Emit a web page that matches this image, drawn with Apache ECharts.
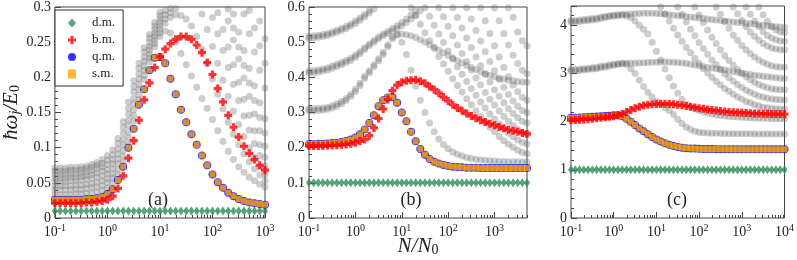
<!DOCTYPE html>
<html><head><meta charset="utf-8">
<script src="https://cdn.jsdelivr.net/npm/echarts@6/dist/echarts.min.js"></script>
<style>html,body{margin:0;padding:0;background:#fff}#c{width:797px;height:260px}</style>
</head><body><div id="c"></div>
<script>
const _ = null;
// log10(N/N0) sample positions for each panel
const expA = [-1.0,-0.9,-0.8,-0.7,-0.6,-0.5,-0.4,-0.3,-0.2,-0.1, 0.0,0.1,0.2,0.3,0.4,0.5,0.6,0.7,0.8,0.9, 1.0,1.1,1.2,1.3,1.4,1.5,1.6,1.7,1.8,1.9, 2.0,2.1,2.2,2.3,2.4,2.5,2.6,2.7,2.8,2.9, 3.0];
const expB = [-1.0,-0.9,-0.8,-0.7,-0.6,-0.5,-0.4,-0.3,-0.2,-0.1, 0.0,0.1,0.2,0.3,0.4,0.5,0.6,0.7,0.8,0.9, 1.0,1.1,1.2,1.3,1.4,1.5,1.6,1.7,1.8,1.9, 2.0,2.1,2.2,2.3,2.4,2.5,2.6,2.7,2.8,2.9, 3.0,3.1,3.2,3.3,3.4,3.5,3.6,3.7];
const expC = [-1.0,-0.9,-0.8,-0.7,-0.6,-0.5,-0.4,-0.3,-0.2,-0.1, 0.0,0.1,0.2,0.3,0.4,0.5,0.6,0.7,0.8,0.9, 1.0,1.1,1.2,1.3,1.4,1.5,1.6,1.7,1.8,1.9, 2.0,2.1,2.2,2.3,2.4,2.5,2.6,2.7,2.8,2.9, 3.0,3.1,3.2,3.3,3.4,3.5,3.6,3.7,3.8,3.9, 4.0];

// tick labels
const xTicksA = [0.1, 1, 10, 100, 1000];
const xTicksB = [0.1, 1, 10, 100, 1000];
const xTicksC = [0.1, 1, 10, 100, 1000, 10000];
const yTicksA = [0, 0.05, 0.1, 0.15, 0.2, 0.25, 0.3];
const yTicksB = [0, 0.1, 0.2, 0.3, 0.4, 0.5, 0.6];
const yTicksC = [0, 1, 2, 3, 4];

// ---------- panel (a) ----------
const dmA = [.01,.01,.01,.01,.01,.01,.01,.01,.01,.01, .01,.01,.01,.01,.01,.01,.01,.01,.01,.01, .01,.01,.01,.01,.01,.01,.01,.01,.01,.01, .01,.01,.01,.01,.01,.01,.01,.01,.01,.01, .01];
const bmA = [.021,.021,.021,.021,.021,.021,.022,.022,.023,.024, .026,.031,.042,.060,.085,.110,.139,.168,.192,.214, .229,.240,.248,.254,.258,.258,.254,.246,.235,.221, .204,.184,.165,.146,.129,.115,.102,.092,.083,.075, .068];
const qmA = [.026,.026,.026,.026,.026,.026,.027,.027,.028,.030, .034,.041,.054,.073,.100,.127,.161,.183,.210,.228, .229,.220,.198,.176,.154,.136,.119,.104,.089,.075, .062,.051,.043,.036,.031,.027,.024,.022,.021,.020, .019];
const smA = [.026,.026,.026,.026,.026,.026,.027,.027,.028,.030, .034,.041,.054,.073,.100,.127,.161,.183,.210,.228, .229,.220,.198,.176,.154,.136,.119,.104,.089,.075, .062,.051,.043,.036,.031,.027,.024,.022,.021,.020, .019];
const gA1 = [.033,.033,.033,.033,.034,.034,.035,.036,.037,.039, .043,.050,.062,.080,.105,.138,.168,.197,.222,.243, .258,.266,.263,.250,.234,.218,.202,.186,.170,.156, .140,.124,.109,.095,.083,.073,.065,.058,.053,.048, .044];
const gA2 = [.040,.040,.040,.040,.041,.041,.042,.043,.044,.046, .050,.057,.069,.088,.114,.146,.175,.203,.228,.248, .263,.277,.285,.289,.288,.283,.273,.258,.240,.220, .198,.176,.155,.136,.119,.104,.091,.080,.070,.061, .053];
const gA3 = [.046,.046,.046,.046,.047,.047,.048,.049,.051,.053, .056,.063,.077,.096,.122,.154,.183,.210,.233,.253, .268,.283,.292,.298,_,_,_,_,.290,.268, .244,.220,.196,.173,.152,.133,.116,.100,.086,.073, .062];
const gA4 = [.052,.052,.052,.053,.053,.054,.055,.056,.058,.060, .063,.070,.084,.104,.131,.162,.190,.216,.239,.258, .273,.289,.298,_,_,_,_,_,_,_, .285,.262,.238,.214,.190,.167,.145,.125,.106,.089, .074];
const gA5 = [.057,.057,.057,.058,.058,.059,.060,.062,.064,.067, .069,.077,.091,.112,.139,.170,.198,.223,.244,.263, .278,.295,_,_,_,_,_,_,_,_, _,.292,.268,.243,.218,.193,.169,.146,.124,.104, .086];
const gA6 = [.062,.062,.062,.063,.063,.064,.065,.067,.070,.073, .076,.083,.098,.121,.148,.179,.205,.229,.250,.268, .283,_,_,_,_,_,_,_,_,_, _,_,_,.280,.253,.226,.199,.173,.148,.124, .102];
const gA7 = [.067,.067,.067,.068,.068,.069,.070,.072,.075,.078, .082,.090,.106,.129,.156,.187,.213,.236,.256,.273, .288,_,_,_,_,_,_,_,_,_, _,_,_,.297,.270,.243,.217,.192,.167,.143, .121];
const gA8 = [.071,.071,.071,.072,.072,.073,.074,.076,.079,.083, .089,.097,.113,.137,.165,.195,.220,.242,.261,.278, .293,_,_,_,_,_,_,_,_,_, _,_,_,_,.290,.264,.238,.213,.188,.164, .141];
const gA9 = [_,_,_,_,_,_,_,_,_,_, _,_,_,_,_,_,_,_,_,_, _,_,_,_,_,_,_,_,_,_, _,_,_,_,_,_,.290,.262,.236,.210, .185];
const gA10 = [_,_,_,_,_,_,_,_,_,_, _,_,_,_,_,_,_,_,_,_, _,_,_,_,_,_,_,_,_,_, _,_,_,_,_,_,_,.295,.270,.245, .220];
const gA11 = [_,_,_,_,_,_,_,_,_,_, _,_,_,_,_,_,_,_,_,_, _,_,_,_,_,_,_,_,_,_, _,_,_,_,_,_,_,_,_,.280, .255];

// ---------- panel (b) ----------
const dmB = [.1,.1,.1,.1,.1,.1,.1,.1,.1,.1, .1,.1,.1,.1,.1,.1,.1,.1,.1,.1, .1,.1,.1,.1,.1,.1,.1,.1,.1,.1, .1,.1,.1,.1,.1,.1,.1,.1,.1,.1, .1,.1,.1,.1,.1,.1,.1,.1];
const bmB = [.205,.205,.205,.205,.206,.206,.207,.208,.209,.211, .214,.218,.223,.234,.256,.283,.310,.337,.362,.378, .386,.390,.392,.393,.389,.383,.374,.365,.355,.344, .333,.322,.313,.305,.297,.290,.284,.278,.273,.268, .264,.259,.255,.251,.248,.245,.242,.239];
const qmB = [.210,.210,.211,.211,.212,.213,.214,.216,.219,.223, .229,.238,.252,.270,.292,.318,.335,.343,.344,.328, .300,.275,.245,.218,.196,.180,.168,.160,.155,.151, .148,.146,.145,.144,.143,.143,.143,.142,.142,.142, .142,.142,.142,.142,.142,.142,.142,.142];
const smB = [.210,.210,.211,.211,.212,.213,.214,.216,.219,.223, .229,.238,.252,.270,.292,.318,.335,.343,.344,.328, .300,.275,.245,.218,.196,.180,.168,.160,.155,.151, .148,.146,.145,.144,.143,.143,.143,.142,.142,.142, .142,.142,.142,.142,.142,.142,.142,.142];
const gB1 = [.305,.305,.306,.307,.309,.313,.318,.325,.334,.346, .360,.377,.397,.413,.430,.447,.465,.487,.510,.520, .500,.465,.420,.375,.335,.300,.270,.245,.225,.209, .197,.188,.181,.176,.172,.169,.167,.165,.164,.163, .162,.161,.161,.160,.160,.160,.159,.159];
const gB2 = [.311,.311,.312,.313,.315,.319,.324,.331,.340,.352, .366,.383,.403,.419,.436,.453,.471,.493,.515,.523, .523,.521,.518,.513,.507,.500,.493,.486,.478,.470, .462,.455,.448,.441,.434,.428,.422,.416,.411,.406, .402,.398,.395,.392,.390,.388,.387,.386];
const gB3 = [.412,.413,.415,.418,.421,.426,.431,.436,.442,.448, .457,.467,.479,.490,.500,.510,.518,.525,.532,.539, .547,.556,.566,.577,.589,_,_,_,_,_, _,_,_,_,_,_,_,_,_,_, _,_,_,_,_,_,_,_];
const gB4 = [.418,.419,.421,.424,.427,.432,.437,.442,.448,.455, .463,.473,.484,.495,.505,.515,.523,.531,.539,.547, .556,.566,.577,.589,_,_,_,_,_,_, _,_,_,_,_,_,_,_,_,_, _,_,_,_,_,_,_,_];
const gB5 = [.511,.512,.514,.516,.519,.523,.528,.533,.539,.546, .553,.562,.572,.583,.594,_,_,_,_,_, _,_,_,_,_,_,_,_,_,_, _,_,_,_,_,_,_,_,_,_, _,_,_,_,_,_,_,_];
const gB6 = [.517,.518,.520,.522,.525,.529,.534,.539,.545,.552, .560,.569,.579,.590,_,_,_,_,_,_, _,_,_,_,_,_,_,_,_,_, _,_,_,_,_,_,_,_,_,_, _,_,_,_,_,_,_,_];
const gB7 = [_,_,_,_,_,_,_,_,_,_, _,_,_,_,_,_,_,_,_,_, _,_,.598,.575,.551,.527,.504,.482,.459,.438, .417,.396,.377,.358,.339,.322,.305,.288,.273,.258, .245,.232,.220,.210,.201,.193,.186,.183];
const gB8 = [_,_,_,_,_,_,_,_,_,_, _,_,_,_,_,_,_,_,_,_, _,_,_,_,_,.598,.574,.548,.523,.499, .475,.452,.430,.409,.388,.368,.349,.330,.313,.296, .281,.267,.253,.241,.231,.222,.215,.211];
const gB9 = [_,_,_,_,_,_,_,_,_,_, _,_,_,_,_,_,_,_,_,_, _,_,_,_,_,_,_,_,.598,.572, .545,.518,.492,.468,.444,.421,.398,.378,.357,.338, .321,.304,.289,.275,.263,.252,.244,.240];
const gB10 = [_,_,_,_,_,_,_,_,_,_, _,_,_,_,_,_,_,_,_,_, _,_,_,_,_,_,_,_,_,_, _,.598,.570,.540,.512,.485,.458,.433,.409,.387, .365,.346,.328,.311,.297,.285,.275,.270];
const gB11 = [_,_,_,_,_,_,_,_,_,_, _,_,_,_,_,_,_,_,_,_, _,_,_,_,_,_,_,_,_,_, _,_,_,_,.598,.566,.533,.503,.473,.445, .419,.394,.372,.351,.333,.318,.306,.300];
const gB12 = [_,_,_,_,_,_,_,_,_,_, _,_,_,_,_,_,_,_,_,_, _,_,_,_,_,_,_,_,_,_, _,_,_,_,_,_,_,.598,.561,.525, .490,.458,.429,.402,.378,.359,.343,.335];
const gB13 = [_,_,_,_,_,_,_,_,_,_, _,_,_,_,_,_,_,_,_,_, _,_,_,_,_,_,_,_,_,_, _,_,_,_,_,_,_,_,_,_, .598,.561,.525,.492,.463,.439,.420,.410];
const gB14 = [_,_,_,_,_,_,_,_,_,_, _,_,_,_,_,_,_,_,_,_, _,_,_,_,_,_,_,_,_,_, _,_,_,_,_,_,_,_,_,_, _,_,_,.598,.571,.529,.504,.490];

// ---------- panel (c) ----------
const dmC = [1,1,1,1,1,1,1,1,1,1, 1,1,1,1,1,1,1,1,1,1, 1,1,1,1,1,1,1,1,1,1, 1,1,1,1,1,1,1,1,1,1, 1,1,1,1,1,1,1,1,1,1, 1];
const bmC = [2.03,2.035,2.04,2.045,2.05,2.06,2.07,2.08,2.09,2.10, 2.11,2.13,2.16,2.20,2.24,2.28,2.31,2.335,2.35,2.36, 2.365,2.37,2.37,2.368,2.36,2.35,2.34,2.325,2.31,2.295, 2.28,2.265,2.25,2.24,2.23,2.22,2.21,2.20,2.195,2.19, 2.185,2.18,2.175,2.17,2.168,2.165,2.163,2.16,2.158,2.156, 2.155];
const qmC = [2.08,2.08,2.085,2.09,2.095,2.10,2.105,2.11,2.115,2.12, 2.13,2.13,2.11,2.06,2.00,1.93,1.86,1.80,1.74,1.68, 1.63,1.59,1.55,1.52,1.495,1.475,1.46,1.45,1.445,1.44, 1.435,1.432,1.43,1.43,1.428,1.428,1.427,1.427,1.426,1.426, 1.425,1.425,1.425,1.425,1.425,1.425,1.425,1.425,1.425,1.425, 1.425];
const smC = [2.08,2.08,2.085,2.09,2.095,2.10,2.105,2.11,2.115,2.12, 2.13,2.13,2.11,2.06,2.00,1.93,1.86,1.80,1.74,1.68, 1.63,1.59,1.55,1.52,1.495,1.475,1.46,1.45,1.445,1.44, 1.435,1.432,1.43,1.43,1.428,1.428,1.427,1.427,1.426,1.426, 1.425,1.425,1.425,1.425,1.425,1.425,1.425,1.425,1.425,1.425, 1.425];
const gC1 = [3.05,3.05,3.06,3.07,3.08,3.09,3.10,3.12,3.13,3.15, 3.17,3.19,3.20,3.19,3.10,3.00,2.86,2.73,2.61,2.51, 2.42,2.35,2.29,2.23,2.15,2.05,1.96,1.89,1.84,1.80, 1.78,1.77,1.765,1.76,1.76,1.755,1.755,1.75,1.75,1.75, 1.75,1.75,1.75,1.745,1.745,1.745,1.745,1.745,1.745,1.745, 1.745];
const gC2 = [3.08,3.08,3.09,3.10,3.11,3.12,3.13,3.15,3.16,3.18, 3.19,3.20,3.21,3.21,3.21,3.21,3.215,3.22,3.225,3.23, 3.235,3.24,3.24,3.235,3.23,3.225,3.215,3.205,3.19,3.175, 3.16,3.145,3.13,3.115,3.10,3.085,3.07,3.055,3.04,3.025, 3.01,2.995,2.98,2.965,2.95,2.94,2.93,2.92,2.91,2.90, 2.895];
const gC3 = [4.07,4.07,4.08,4.09,4.10,4.11,4.12,4.14,4.16,4.18, 4.19,4.20,4.21,4.20,4.16,4.09,4.00,3.92,3.82,3.65, 3.46,3.28,3.09,2.91,2.74,2.59,2.46,2.36,2.30,2.26, 2.23,2.20,2.18,2.16,2.14,2.125,2.115,2.105,2.10,2.095, 2.09,2.085,2.08,2.075,2.07,2.07,2.065,2.065,2.06,2.06, 2.06];
const gC4 = [4.10,4.10,4.11,4.12,4.13,4.14,4.15,4.17,4.18,4.20, 4.21,4.22,4.23,4.23,4.235,4.24,4.245,4.25,4.25,4.25, 4.245,4.24,4.23,4.22,4.21,4.20,4.19,4.18,4.17,4.16, 4.15,4.14,4.13,4.12,4.11,4.10,4.09,4.08,4.07,4.06, 4.05,4.04,4.03,4.02,4.01,4.00,3.99,3.98,3.97,3.965, 3.96];
const gC5 = [_,_,_,_,_,_,_,_,_,_, _,_,_,_,_,_,_,_,_,_, _,4.38,4.24,4.09,3.94,3.80,3.67,3.54,3.43,3.31, 3.21,3.10,3.01,2.92,2.84,2.76,2.69,2.63,2.57,2.51, 2.47,2.42,2.39,2.35,2.33,2.30,2.29,2.275,2.266,2.262, 2.26];
const gC6 = [_,_,_,_,_,_,_,_,_,_, _,_,_,_,_,_,_,_,_,_, _,_,_,_,_,4.38,4.23,4.07,3.92,3.78, 3.64,3.52,3.40,3.28,3.18,3.08,2.99,2.91,2.84,2.77, 2.71,2.65,2.61,2.57,2.53,2.51,2.485,2.468,2.458,2.452, 2.45];
const gC7 = [_,_,_,_,_,_,_,_,_,_, _,_,_,_,_,_,_,_,_,_, _,_,_,_,_,_,_,_,_,4.38, 4.22,4.06,3.90,3.75,3.62,3.49,3.37,3.27,3.17,3.08, 3.00,2.93,2.87,2.815,2.77,2.735,2.705,2.685,2.67,2.662, 2.66];
const gC8 = [_,_,_,_,_,_,_,_,_,_, _,_,_,_,_,_,_,_,_,_, _,_,_,_,_,_,_,_,_,_, _,_,_,_,4.38,4.23,4.08,3.94,3.80,3.69, 3.58,3.49,3.41,3.34,3.28,3.23,3.19,3.16,3.14,3.133, 3.13];
const gC9 = [_,_,_,_,_,_,_,_,_,_, _,_,_,_,_,_,_,_,_,_, _,_,_,_,_,_,_,_,_,_, _,_,_,_,_,_,_,_,4.38,4.24, 4.10,3.97,3.86,3.77,3.69,3.62,3.57,3.53,3.507,3.494, 3.49];
const gC10 = [_,_,_,_,_,_,_,_,_,_, _,_,_,_,_,_,_,_,_,_, _,_,_,_,_,_,_,_,_,_, _,_,_,_,_,_,_,_,_,_, _,4.38,4.23,4.09,3.97,3.87,3.79,3.735,3.697,3.676, 3.67];
const gC11 = [_,_,_,_,_,_,_,_,_,_, _,_,_,_,_,_,_,_,_,_, _,_,_,_,_,_,_,_,_,_, _,_,_,_,_,_,_,_,_,_, _,_,_,_,4.38,4.22,4.08,3.97,3.90,3.86, 3.85];

const greyA = [gA1,gA2,gA3,gA4,gA5,gA6,gA7,gA8,gA9,gA10,gA11];
const greyB = [gB1,gB2,gB3,gB4,gB5,gB6,gB7,gB8,gB9,gB10,gB11,gB12,gB13,gB14];
const greyC = [gC1,gC2,gC3,gC4,gC5,gC6,gC7,gC8,gC9,gC10,gC11];

const panels = [
  {exp: expA, dm: dmA, bm: bmA, qm: qmA, sm: smA, grey: greyA, xTicks: xTicksA, yTicks: yTicksA, xMax: 1000, yMax: 0.3},
  {exp: expB, dm: dmB, bm: bmB, qm: qmB, sm: smB, grey: greyB, xTicks: xTicksB, yTicks: yTicksB, xMax: Math.pow(10, 3.7), yMax: 0.6},
  {exp: expC, dm: dmC, bm: bmC, qm: qmC, sm: smC, grey: greyC, xTicks: xTicksC, yTicks: yTicksC, xMax: 10000, yMax: 4.4}
];

const FONT = '"Liberation Serif","DejaVu Serif",serif';
const AX = '#444';
const TXT = '#222';
const PLUS = 'path://M3,0H7V3H10V7H7V10H3V7H0V3H3Z';
const grids = [
  {left: 49, top: 6, width: 216, height: 212},
  {left: 309, top: 6, width: 218, height: 212},
  {left: 571, top: 6, width: 216, height: 212}
].map(g => Object.assign(g, {show: true, borderColor: AX, borderWidth: 1, containLabel: false}));

function pts(xs, ys) {
  const out = [];
  for (let i = 0; i < xs.length; i++) if (ys[i] != null) out.push([Math.pow(10, xs[i]), ys[i]]);
  return out;
}

const xAxis = [], yAxis = [], series = [];
panels.forEach((p, i) => {
  xAxis.push({
    type: 'log', logBase: 10, gridIndex: i, min: 0.1, max: p.xMax,
    axisLine: {show: false}, splitLine: {show: false},
    axisTick: {show: true, inside: true, length: 6, lineStyle: {color: AX}, customValues: p.xTicks},
    axisLabel: {
      customValues: p.xTicks, margin: 5,
      formatter: v => '{b|10}{s|' + Math.round(Math.log10(v)) + '}',
      rich: {
        b: {fontFamily: FONT, fontSize: 14, color: TXT},
        s: {fontFamily: FONT, fontSize: 10, color: TXT, padding: [0, 0, 9, 0]}
      }
    }
  });
  const y = {
    type: 'value', gridIndex: i, min: 0, max: p.yMax,
    interval: p.yTicks[1] - p.yTicks[0],
    axisLine: {show: false}, splitLine: {show: false},
    axisTick: {show: true, inside: true, length: 6, lineStyle: {color: AX}},
    minorTick: {show: true, splitNumber: 5, length: 3, lineStyle: {color: AX}},
    axisLabel: {fontFamily: FONT, fontSize: 14, color: TXT, margin: 4, showMaxLabel: i !== 2}
  };
  if (i === 0) {
    Object.assign(y, {
      name: '{i|ħω}{s|j}{i|/E}{z|0}', nameLocation: 'middle', nameRotate: 90, nameGap: 27,
      nameTextStyle: {
        rich: {
          i: {fontFamily: FONT, fontStyle: 'italic', fontSize: 21, color: TXT},
          s: {fontFamily: FONT, fontStyle: 'italic', fontSize: 14, color: TXT, padding: [8, 0, 0, 0]},
          z: {fontFamily: FONT, fontSize: 14, color: TXT, padding: [8, 0, 0, 0]}
        }
      }
    });
  }
  yAxis.push(y);
  // minor log ticks on x axis
  const minor = [];
  for (let e = -1; e < 4; e++) for (let m = 2; m <= 9; m++) {
    const v = m * Math.pow(10, e);
    if (v < p.xMax) minor.push([v, 0]);
  }
  series.push({
    type: 'custom', xAxisIndex: i, yAxisIndex: i, silent: true, z: 10, clip: false,
    data: minor,
    renderItem: (params, api) => {
      const c = api.coord([api.value(0), 0]);
      const x = Math.round(c[0]) + 0.5;
      return {type: 'line', shape: {x1: x, y1: c[1], x2: x, y2: c[1] - 3}, style: {stroke: AX, lineWidth: 1}};
    }
  });
  p.grey.forEach(g => series.push({
    type: 'scatter', name: 'grey', xAxisIndex: i, yAxisIndex: i, symbol: 'circle', symbolSize: 7,
    itemStyle: {color: 'rgba(100,100,100,0.4)'}, data: pts(p.exp, g), z: 2, silent: true
  }));
  series.push({type: 'scatter', name: 'd.m.', xAxisIndex: i, yAxisIndex: i, symbol: 'diamond', symbolSize: [6, 9],
    itemStyle: {color: '#2e8b57'}, data: pts(p.exp, p.dm), z: 3});
  series.push({type: 'scatter', name: 'q.m.', xAxisIndex: i, yAxisIndex: i, symbol: 'circle', symbolSize: 8,
    itemStyle: {color: '#0000ff'}, data: pts(p.exp, p.qm), z: 3});
  series.push({type: 'scatter', name: 's.m.', xAxisIndex: i, yAxisIndex: i, symbol: 'rect', symbolSize: 6,
    itemStyle: {color: '#ffa500'}, data: pts(p.exp, p.sm), z: 3});
  series.push({type: 'scatter', name: 'b.m.', xAxisIndex: i, yAxisIndex: i, symbol: PLUS, symbolSize: 8,
    itemStyle: {color: '#ff0000'}, data: pts(p.exp, p.bm), z: 4});
});

const option = {
  animation: false,
  backgroundColor: '#fff',
  grid: grids,
  xAxis, yAxis, series,
  legend: {
    left: 55, top: 10, orient: 'vertical', itemWidth: 8, itemHeight: 9, itemGap: 3,
    padding: [6, 8, 5, 13], borderColor: '#333', borderWidth: 1, backgroundColor: '#fff',
    textStyle: {fontFamily: FONT, fontSize: 13, color: TXT, lineHeight: 14, padding: [0, 0, 0, 11]},
    data: [
      {name: 'd.m.', icon: 'diamond'},
      {name: 'b.m.', icon: PLUS},
      {name: 'q.m.', icon: 'circle'},
      {name: 's.m.', icon: 'rect'}
    ]
  },
  graphic: [
    {type: 'text', x: 158, y: 200, style: {text: '(a)', font: '18px ' + FONT, fill: TXT, align: 'center', verticalAlign: 'middle'}},
    {type: 'text', x: 411, y: 200, style: {text: '(b)', font: '18px ' + FONT, fill: TXT, align: 'center', verticalAlign: 'middle'}},
    {type: 'text', x: 677, y: 200, style: {text: '(c)', font: '18px ' + FONT, fill: TXT, align: 'center', verticalAlign: 'middle'}},
    {type: 'text', x: 418, y: 246,
      style: {text: '{i|N/N}{z|0}', align: 'center', verticalAlign: 'middle', fill: TXT,
        rich: {
          i: {fontFamily: FONT, fontStyle: 'italic', fontSize: 21, fill: TXT},
          z: {fontFamily: FONT, fontSize: 14, fill: TXT, padding: [8, 0, 0, 0]}
        }}}
  ]
};
const chart = echarts.init(document.getElementById('c'), null, {renderer: 'canvas'});
chart.setOption(option);
</script></body></html>
